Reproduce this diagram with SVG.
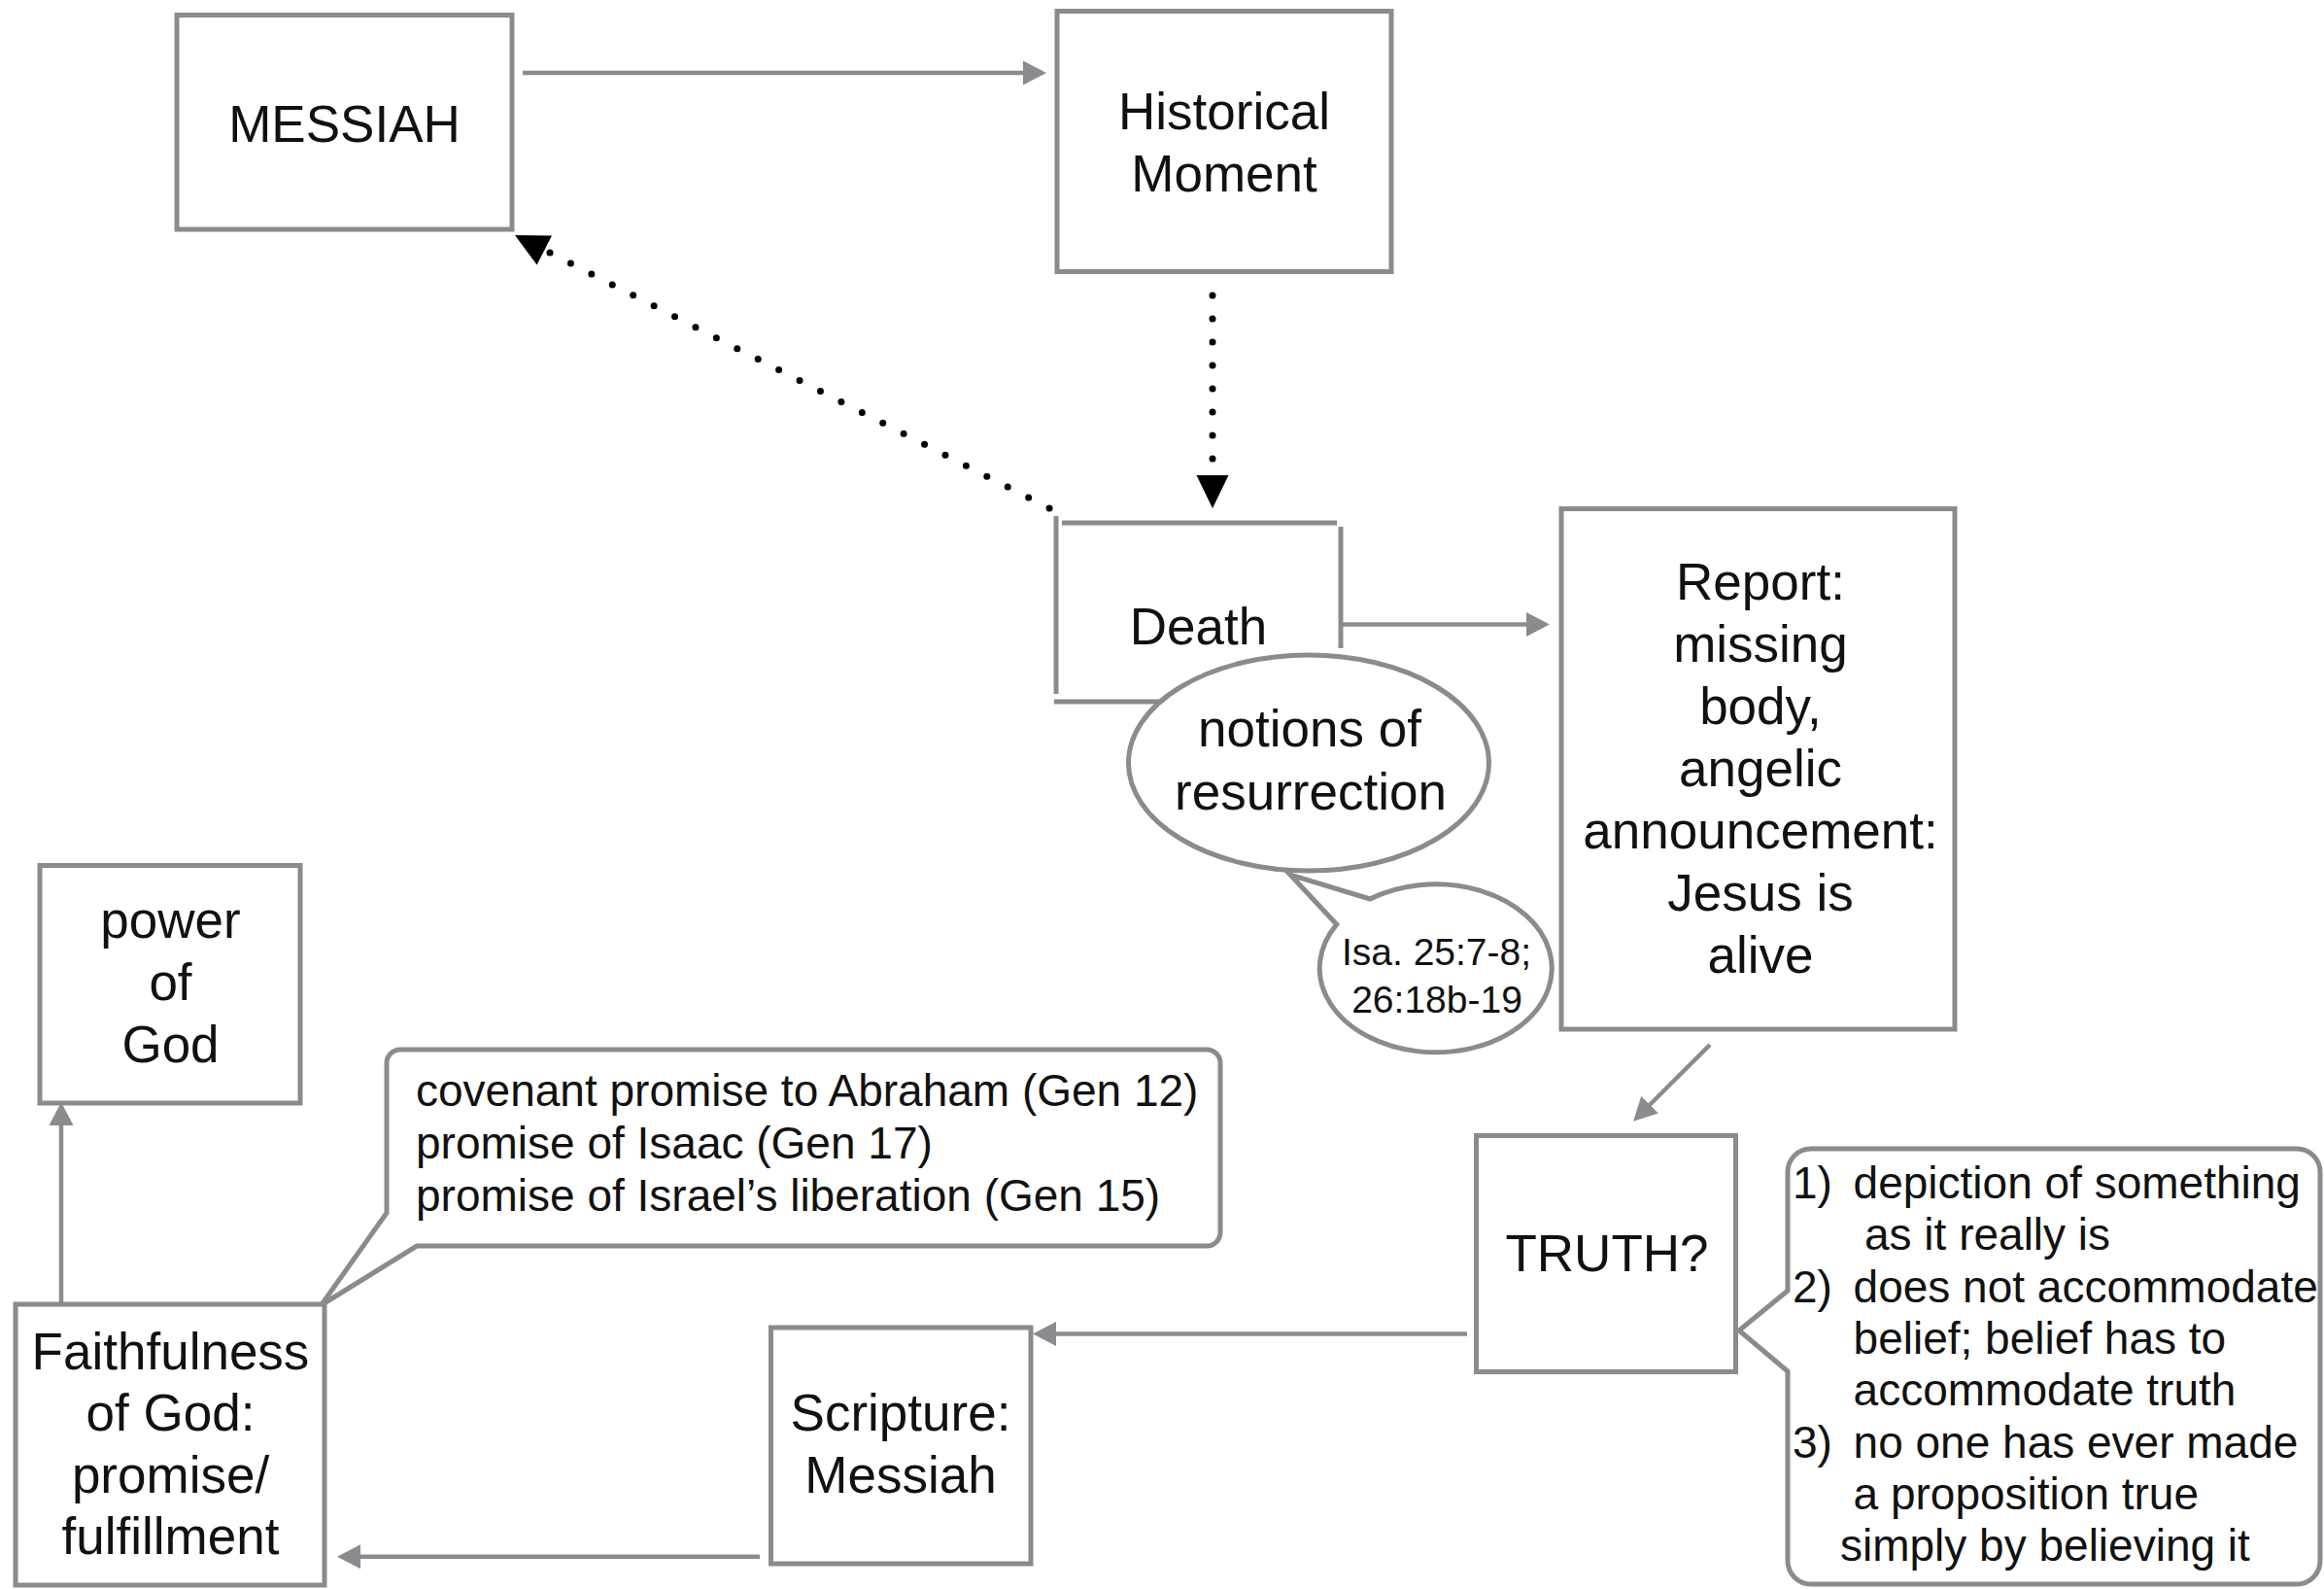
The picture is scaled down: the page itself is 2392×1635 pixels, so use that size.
<svg xmlns="http://www.w3.org/2000/svg" width="2392" height="1635" viewBox="0 0 2392 1635">
<style>
  .bx{fill:#fff;stroke:#898b8e;stroke-width:5}
  .ln{fill:none;stroke:#898b8e;stroke-width:5}
  .cn{fill:none;stroke:#898b8e;stroke-width:4.5}
  .dot{fill:none;stroke:#000;stroke-width:7;stroke-linecap:round}
  .t{font-family:"Liberation Sans",Arial,Helvetica,sans-serif;font-size:53px;fill:#111;text-anchor:middle}
  .s{font-family:"Liberation Sans",Arial,Helvetica,sans-serif;font-size:46px;fill:#111}
  .x{font-family:"Liberation Sans",Arial,Helvetica,sans-serif;font-size:39px;fill:#111;text-anchor:middle}
</style>
<defs>
  <marker id="ag" markerUnits="userSpaceOnUse" markerWidth="24" markerHeight="25" refX="6" refY="12.5" orient="auto" viewBox="0 0 24 25">
    <path d="M0,0 L24,12.5 L0,25 Z" fill="#898b8e"/>
  </marker>
</defs>
<rect width="2392" height="1635" fill="#fff"/>

<g id="connectors">
  <line class="cn" x1="538" y1="75" x2="1059" y2="75" marker-end="url(#ag)"/>
  <line class="cn" x1="1382" y1="642.5" x2="1577" y2="642.5" marker-end="url(#ag)"/>
  <line class="cn" x1="1760" y1="1075" x2="1693.8" y2="1141" marker-end="url(#ag)"/>
  <line class="cn" x1="1510" y1="1372.5" x2="1081" y2="1372.5" marker-end="url(#ag)"/>
  <line class="cn" x1="782" y1="1601.7" x2="365" y2="1601.7" marker-end="url(#ag)"/>
  <line class="cn" x1="63" y1="1341" x2="63" y2="1152" marker-end="url(#ag)"/>
  <path class="dot" d="M1248 304 V473" stroke-dasharray="0 24"/>
  <polygon points="1231.5,489 1264.5,489 1248,523" fill="#000"/>
  <path class="dot" d="M566 260 L1082 524" stroke-dasharray="0 24.06"/>
  <polygon points="530,242 568,242.4 552.6,272.6" fill="#000"/>
</g>

<g id="messiah">
  <rect class="bx" x="182" y="15.5" width="345" height="220.5"/>
  <text class="t" x="354.5" y="146">MESSIAH</text>
</g>

<g id="historical-moment">
  <rect class="bx" x="1088" y="11.5" width="344" height="268"/>
  <text class="t" x="1260" y="133">Historical</text>
  <text class="t" x="1260" y="197">Moment</text>
</g>

<g id="death">
  <line class="ln" x1="1087" y1="531" x2="1087" y2="714"/>
  <line class="ln" x1="1093" y1="538" x2="1376" y2="538"/>
  <line class="ln" x1="1380" y1="542" x2="1380" y2="667"/>
  <line class="ln" x1="1085" y1="722" x2="1300" y2="722"/>
  <text class="t" x="1233.5" y="663">Death</text>
</g>

<g id="notions-of-resurrection">
  <ellipse class="bx" cx="1347" cy="785" rx="185.5" ry="111"/>
  <text class="t" x="1348" y="768">notions of</text>
  <text class="t" x="1349" y="833">resurrection</text>
</g>

<g id="isaiah">
  <path class="bx" d="M1410.1 925 L1328 900 L1375.8 951.2 A119.5 86.5 0 1 0 1410.1 925 Z"/>
  <text class="x" x="1478.5" y="993">Isa. 25:7-8;</text>
  <text class="x" x="1479" y="1041.7">26:18b-19</text>
</g>

<g id="report">
  <rect class="bx" x="1607" y="523.5" width="405" height="535.5"/>
  <text class="t" x="1812" y="617">Report:</text>
  <text class="t" x="1812" y="681">missing</text>
  <text class="t" x="1812" y="745">body,</text>
  <text class="t" x="1812" y="809">angelic</text>
  <text class="t" x="1812" y="873">announcement:</text>
  <text class="t" x="1812" y="937">Jesus is</text>
  <text class="t" x="1812" y="1001">alive</text>
</g>

<g id="truth">
  <rect class="bx" x="1519.5" y="1168.5" width="267" height="243"/>
  <text class="t" x="1654" y="1307.5">TRUTH?</text>
</g>

<g id="truth-note">
  <path class="bx" d="M1864 1182 H2364 A24 24 0 0 1 2388 1206 V1606 A24 24 0 0 1 2364 1630 H1864 A24 24 0 0 1 1840 1606 V1411 L1790 1369 L1840 1328 V1206 A24 24 0 0 1 1864 1182 Z"/>
  <text class="s" x="1845" y="1233">1)</text>
  <text class="s" x="1907.6" y="1233">depiction of something</text>
  <text class="s" x="1919" y="1286.3">as it really is</text>
  <text class="s" x="1845" y="1339.6">2)</text>
  <text class="s" x="1907.6" y="1339.6">does not accommodate</text>
  <text class="s" x="1907.6" y="1392.9">belief; belief has to</text>
  <text class="s" x="1907.6" y="1446.2">accommodate truth</text>
  <text class="s" x="1845" y="1499.5">3)</text>
  <text class="s" x="1907.6" y="1499.5">no one has ever made</text>
  <text class="s" x="1907.6" y="1552.8">a proposition true</text>
  <text class="s" x="1894" y="1606.1">simply by believing it</text>
</g>

<g id="power-of-god">
  <rect class="bx" x="41" y="890.5" width="268" height="244.5"/>
  <text class="t" x="175.5" y="965">power</text>
  <text class="t" x="175.5" y="1029">of</text>
  <text class="t" x="175.5" y="1093">God</text>
</g>

<g id="covenant-note">
  <path class="bx" d="M412 1080 H1242 A14 14 0 0 1 1256 1094 V1268 A14 14 0 0 1 1242 1282 H429 L330.5 1343 L398 1248 V1094 A14 14 0 0 1 412 1080 Z"/>
  <text class="s" x="428" y="1138">covenant promise to Abraham (Gen 12)</text>
  <text class="s" x="428" y="1192">promise of Isaac (Gen 17)</text>
  <text class="s" x="428" y="1245.6">promise of Israel’s liberation (Gen 15)</text>
</g>

<g id="faithfulness">
  <rect class="bx" x="16" y="1342" width="318" height="289"/>
  <text class="t" x="175.5" y="1409">Faithfulness</text>
  <text class="t" x="175.5" y="1472.4">of God:</text>
  <text class="t" x="175.5" y="1536">promise/</text>
  <text class="t" x="175.5" y="1599">fulfillment</text>
</g>

<g id="scripture">
  <rect class="bx" x="793.5" y="1366" width="267.5" height="243"/>
  <text class="t" x="927" y="1472">Scripture:</text>
  <text class="t" x="927" y="1536">Messiah</text>
</g>
</svg>
